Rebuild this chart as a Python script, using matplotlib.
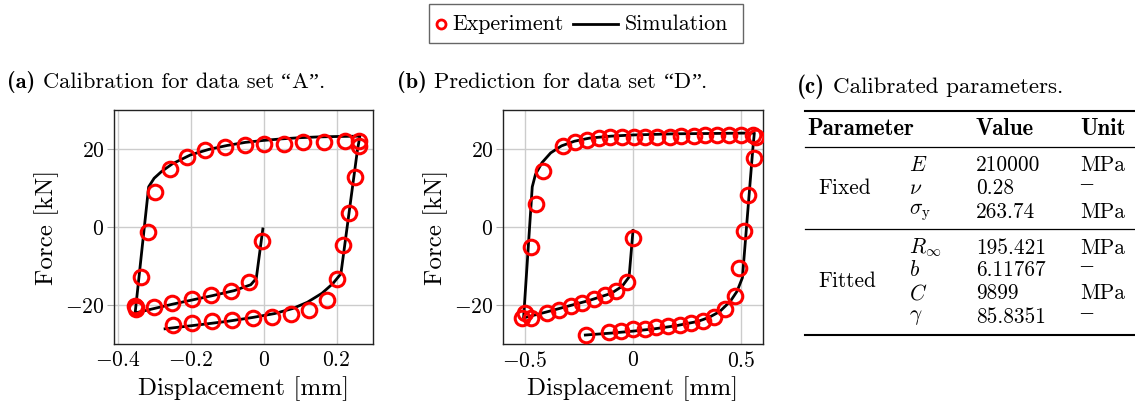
import matplotlib
matplotlib.use("Agg")
import matplotlib.pyplot as plt

plt.rcParams['font.family'] = ['cmr10', 'DejaVu Serif']
plt.rcParams['mathtext.fontset'] = 'cm'
plt.rcParams['axes.formatter.use_mathtext'] = True
plt.rcParams['axes.unicode_minus'] = True

# ---------------- data: panel (a) ----------------
exp_a_x = [-0.005, -0.039, -0.089, -0.143, -0.195, -0.250, -0.301, -0.351, -0.353, -0.349,
           -0.335, -0.318, -0.297, -0.256, -0.211, -0.161, -0.107, -0.052, 0.002, 0.056,
           0.109, 0.165, 0.224, 0.262, 0.262,
           0.251, 0.235, 0.219, 0.201, 0.174, 0.124, 0.076, 0.024, -0.030, -0.087,
           -0.141, -0.195, -0.247]
exp_a_y = [-3.7, -14.1, -16.3, -17.4, -18.5, -19.5, -20.6, -20.6, -20.2, -21.1,
           -12.8, -1.3, 8.9, 14.8, 18.0, 19.7, 20.4, 20.9, 21.2, 21.4,
           21.7, 21.8, 22.1, 22.1, 20.7,
           12.9, 3.7, -4.7, -13.3, -18.7, -21.2, -22.4, -23.1, -23.3, -23.8,
           -24.2, -24.7, -25.1]
sim_a_x = [-0.002, -0.020, -0.035, -0.080, -0.140, -0.200, -0.250, -0.300, -0.345, -0.352,
           -0.315, -0.300, -0.280, -0.250, -0.200, -0.150, -0.100, -0.050, 0.000, 0.050,
           0.100, 0.150, 0.200, 0.264,
           0.257, 0.212, 0.190, 0.160, 0.120, 0.080, 0.030, -0.030, -0.100, -0.170, -0.270]
sim_a_y = [-0.5, -13.2, -14.8, -16.3, -17.6, -18.8, -19.8, -20.9, -21.9, -22.0,
           10.3, 12.5, 14.2, 16.2, 18.5, 19.9, 20.9, 21.7, 22.2, 22.6,
           22.9, 23.1, 23.2, 23.3,
           19.5, -12.0, -14.5, -17.0, -19.3, -20.9, -22.2, -23.2, -24.2, -25.0, -26.1]

# ---------------- data: panel (b) ----------------
exp_b_x = [0.000, -0.028, -0.077, -0.128, -0.182, -0.235, -0.288, -0.342, -0.395, -0.469, -0.500, -0.511,
           -0.469, -0.446, -0.415, -0.323, -0.269, -0.212, -0.158, -0.105, -0.051, 0.003, 0.057,
           0.111, 0.169, 0.223, 0.280, 0.334, 0.389, 0.443, 0.500, 0.554, 0.566,
           0.558, 0.531, 0.511, 0.489, 0.469, 0.423, 0.372, 0.323, 0.269, 0.215, 0.162,
           0.105, 0.054, 0.000, -0.057, -0.112, -0.215]
exp_b_y = [-2.8, -14.1, -16.3, -17.4, -18.4, -19.4, -20.3, -21.2, -22.0, -23.4, -22.0, -23.4,
           -5.1, 5.8, 14.3, 20.7, 21.9, 22.4, 22.8, 23.0, 23.0, 23.1, 23.1,
           23.2, 23.2, 23.3, 23.4, 23.5, 23.6, 23.6, 23.7, 23.7, 23.0,
           17.7, 8.2, -1.0, -10.4, -17.6, -21.0, -23.1, -24.0, -24.7, -25.1, -25.4,
           -25.7, -26.1, -26.2, -26.6, -27.0, -27.6]
sim_b_x = [0.000, -0.018, -0.050, -0.100, -0.200, -0.300, -0.400, -0.470, -0.505,
           -0.465, -0.450, -0.420, -0.380, -0.330, -0.270, -0.200, -0.100, 0.000, 0.200, 0.400, 0.560,
           0.553, 0.505, 0.480, 0.450, 0.400, 0.350, 0.300, 0.200, 0.100, 0.000, -0.100, -0.220]
sim_b_y = [-0.9, -12.8, -15.2, -17.0, -18.8, -20.3, -21.8, -22.8, -23.3,
           10.3, 13.5, 16.5, 19.0, 20.8, 22.0, 22.8, 23.3, 23.6, 23.9, 24.0, 24.1,
           20.0, -13.0, -16.5, -19.0, -21.7, -23.2, -24.2, -25.3, -26.1, -26.7, -27.2, -27.7]

xticks_a = [-0.4, -0.2, 0, 0.2]
xticklabels_a = [r'$-0.4$', r'$-0.2$', r'$0$', r'$0.2$']
xticks_b = [-0.5, 0, 0.5]
xticklabels_b = [r'$-0.5$', r'$0$', r'$0.5$']
yticks = [-20, 0, 20]
yticklabels = [r'$-20$', r'$0$', r'$20$']

# ---------------- data: table (c) ----------------
table_header = ['Parameter', 'Value', 'Unit']
fixed_symbols = [r'$E$', r'$\nu$', r'$\sigma_\mathrm{y}$']
fixed_values = ['210000', '0.28', '263.74']
fixed_units = ['MPa', '–', 'MPa']
fitted_symbols = [r'$R_\infty$', r'$b$', r'$C$', r'$\gamma$']
fitted_values = ['195.421', '6.11767', '9899', '85.8351']
fitted_units = ['MPa', '–', 'MPa', '–']

W, H = 1135, 409
fig = plt.figure(figsize=(W / 100, H / 100), dpi=100)
renderer = fig.canvas.get_renderer()


def px_axes(x0, y0, x1, y1):
    return fig.add_axes([x0 / W, 1 - y1 / H, (x1 - x0) / W, (y1 - y0) / H])


def style_axes(ax, xticks, xlabels, xlim):
    ax.set_xlim(*xlim)
    ax.set_ylim(-30, 30)
    ax.set_xticks(xticks)
    ax.set_xticklabels(xlabels)
    ax.set_yticks(yticks)
    ax.set_yticklabels(yticklabels)
    ax.grid(True, color='#cccccc', linewidth=1.0)
    ax.set_axisbelow(True)
    ax.tick_params(axis='x', direction='in', length=0, labelsize=15.5, pad=5)
    ax.tick_params(axis='y', direction='out', length=5, color='#aaaaaa', labelsize=15.5, pad=2)
    for s in ax.spines.values():
        s.set_linewidth(1.0)
        s.set_color('#222222')
    ax.set_xlabel('Displacement [mm]', fontsize=18, labelpad=4)
    ax.set_ylabel('Force [kN]', fontsize=18, labelpad=4)


mk = dict(marker='o', linestyle='none', markersize=10.5, markerfacecolor='none',
          markeredgecolor='#ff0000', markeredgewidth=2.2, zorder=3)
ln = dict(color='black', linewidth=2.0, zorder=2)

ax_a = px_axes(114, 110, 373, 344)
ax_a.plot(sim_a_x, sim_a_y, **ln)
ax_a.plot(exp_a_x, exp_a_y, **mk)
style_axes(ax_a, xticks_a, xticklabels_a, (-0.41, 0.30))

ax_b = px_axes(503, 110, 763, 344)
ax_b.plot(sim_b_x, sim_b_y, **ln)
ax_b.plot(exp_b_x, exp_b_y, **mk)
style_axes(ax_b, xticks_b, xticklabels_b, (-0.6, 0.6))

# overlay axes in pixel coordinates for titles, legend and table
tx = fig.add_axes([0, 0, 1, 1])
tx.set_xlim(0, W)
tx.set_ylim(H, 0)
tx.axis('off')
tx.set_zorder(5)

REG = dict(family=['cmr10'])
BOLD = dict(family=['cmb10'])
QUOTE = dict(family=['Liberation Serif'])


def text_width(s, size, fam):
    t = tx.text(0, 0, s, fontsize=size, **fam)
    w = t.get_window_extent(renderer=renderer).width
    t.remove()
    return w


def draw_seq(x, y, pieces, size):
    sp = text_width('a a', size, REG) - text_width('aa', size, REG)
    for s, fam, space_after in pieces:
        t = tx.text(x, y, s, fontsize=size, ha='left', va='baseline', **fam)
        x += t.get_window_extent(renderer=renderer).width
        if space_after:
            x += sp


TS = 16.2
draw_seq(7, 88, [('(a)', BOLD, True), ('Calibration for data set', REG, True),
                 ('“', QUOTE, False), ('A', REG, False), ('”', QUOTE, False), ('.', REG, False)], TS)
draw_seq(397, 88, [('(b)', BOLD, True), ('Prediction for data set', REG, True),
                   ('“', QUOTE, False), ('D', REG, False), ('”', QUOTE, False), ('.', REG, False)], TS)
draw_seq(797, 93, [('(c)', BOLD, True), ('Calibrated parameters.', REG, False)], 16.6)

# Legend (drawn manually to match layout)
tx.add_patch(plt.Rectangle((429, 4), 314, 39, fill=False, edgecolor='#666666', linewidth=1.0))
tx.plot([441], [24], marker='o', markersize=6.5, markerfacecolor='none',
        markeredgecolor='#ff0000', markeredgewidth=2.0, linestyle='none')
tx.text(452, 24, 'Experiment', fontsize=15.8, ha='left', va='center', **REG)
tx.plot([573, 618], [24, 24], color='black', linewidth=2.0)
tx.text(625, 24, 'Simulation', fontsize=15.8, ha='left', va='center', **REG)

# Table
x_l, x_r = 805, 1134
tx.plot([x_l, x_r], [110.7, 110.7], color='black', linewidth=1.5)
tx.plot([x_l, x_r], [147, 147], color='black', linewidth=0.9)
tx.plot([x_l, x_r], [229, 229], color='black', linewidth=0.9)
tx.plot([x_l, x_r], [335, 335], color='black', linewidth=1.5)
fs = 15.4
col_sym, col_val, col_unit = 909, 976, 1080
tx.text(807, 129, table_header[0], fontsize=16.5, va='center', ha='left', **BOLD)
tx.text(col_val, 129, table_header[1], fontsize=16.5, va='center', ha='left', **BOLD)
tx.text(col_unit, 129, table_header[2], fontsize=16.5, va='center', ha='left', **BOLD)
tx.text(818, 188, 'Fixed', fontsize=fs, va='center', ha='left', **REG)
tx.text(818, 281, 'Fitted', fontsize=fs, va='center', ha='left', **REG)
fixed_y = [165, 188, 212]
fitted_y = [248, 270, 293, 317]


def unit_text(yy, u):
    if u == '–':
        tx.text(col_unit, yy - 3, u, fontsize=fs + 2, va='center', ha='left', **QUOTE)
    else:
        tx.text(col_unit, yy, u, fontsize=fs, va='center', ha='left', **REG)


for yy, s, v, u in zip(fixed_y, fixed_symbols, fixed_values, fixed_units):
    tx.text(col_sym, yy, s, fontsize=fs, va='center', ha='left')
    tx.text(col_val, yy, v, fontsize=fs, va='center', ha='left', **REG)
    unit_text(yy, u)
for yy, s, v, u in zip(fitted_y, fitted_symbols, fitted_values, fitted_units):
    tx.text(col_sym, yy, s, fontsize=fs, va='center', ha='left')
    tx.text(col_val, yy, v, fontsize=fs, va='center', ha='left', **REG)
    unit_text(yy, u)

fig.savefig('out.png', dpi=100)
